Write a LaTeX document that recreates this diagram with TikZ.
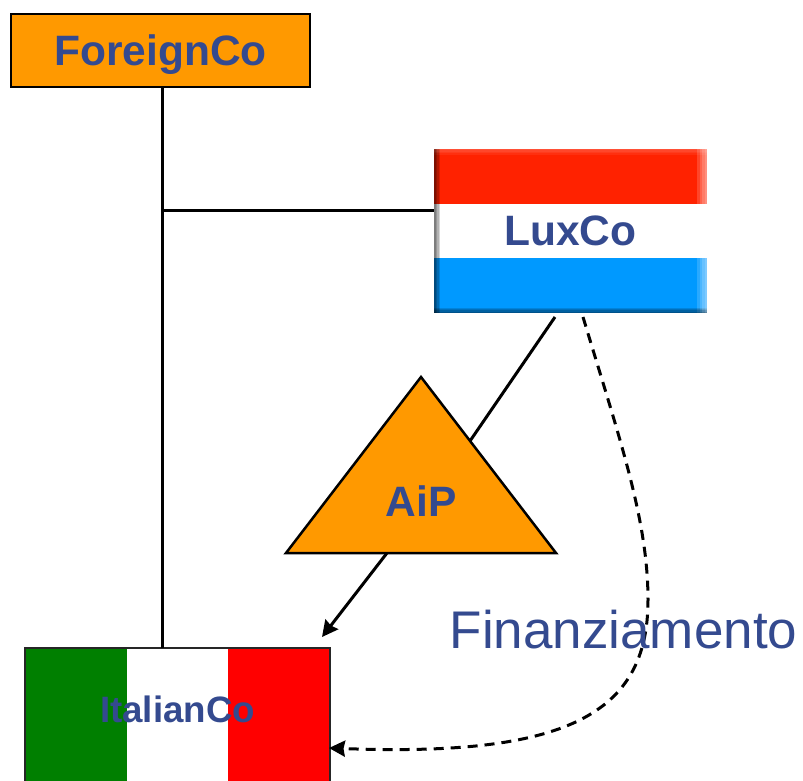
\documentclass[tikz,border=0pt]{standalone}
\usepackage{fontspec}
\setmainfont{Liberation Sans}
\usetikzlibrary{arrows}
\usetikzlibrary{arrows.meta}
\definecolor{lab}{HTML}{344A8F}
\definecolor{box}{HTML}{FF9900}
\definecolor{luxred}{HTML}{FF2200}
\definecolor{luxblue}{HTML}{0099FF}
\definecolor{itagreen}{HTML}{007F00}
\definecolor{itared}{HTML}{FF0000}
\tikzset{co/.style={text=lab,font=\fontsize{42.5}{42.5}\selectfont\bfseries,inner sep=0pt}}
\tikzset{ln/.style={draw=black,line width=3pt}}
\tikzset{ar/.style={ln,-{Stealth[length=16pt,width=16pt,inset=1.5pt]}}}

\begin{document}
\begin{tikzpicture}[x=1pt,y=-1pt]
\clip (0,0) rectangle (803,781);

% lux flag
\fill[luxred] (434,149) rectangle (707,204);
\fill[white] (434,204) rectangle (707,258);
\fill[luxblue] (434,258) rectangle (707,313);
\foreach \i in {0,1,2,3} {
  \fill[black,opacity=0.16] (434,149) rectangle (440-\i*1.5,313);
  \fill[white,opacity=0.16] (707,149) rectangle (697+\i*2.5,313);
  \fill[black,opacity=0.14] (434,313) rectangle (707,308+\i*1.2);
  \fill[white,opacity=0.06] (434,149) rectangle (707,155-\i*1.5);
}
\node[co,minimum width=273pt,minimum height=164pt] (lux) at (570.5,231) {LuxCo};

% italian flag
\fill[itagreen] (25,648) rectangle (127,830);
\fill[white] (127,648) rectangle (228,830);
\fill[itared] (228,648) rectangle (330,830);
\node[co,font=\fontsize{36.7}{36.7}\selectfont\bfseries] (ita) at (177.5,709) {ItalianCo};
\draw[line width=2pt,draw=black!85] (25,830) -- (25,648) -- (330,648) -- (330,830);

\node[co,draw=black,line width=2.5pt,fill=box,minimum width=299pt,minimum height=73pt,text depth=1pt] (foreign) at (160.5,50.5) {ForeignCo};

\coordinate (top) at (162,87);
\coordinate (bot) at (162,648);
\coordinate (mid) at (162,210);
\coordinate (luxw) at (434,210);
\coordinate (luxa) at (555,317);
\coordinate (luxb) at (583,317);
\coordinate (aipa) at (470,441);
\coordinate (aipb) at (387,553);
\coordinate (itaa) at (322,637);
\coordinate (itab) at (329,748);

\draw[ln] (top) -- (bot);
\draw[ln] (mid) -- (luxw);
\draw[ln] (luxa) -- (aipa);
\draw[ar] (aipb) -- (itaa);
\draw[ar,dash pattern=on 10pt off 7pt] (luxb) .. controls (620,440) and (648,520) .. (648,600) .. controls (648,715) and (565,757) .. (itab);

\draw[line width=2.5pt,fill=box] (421,377) -- (556,553) -- (286,553) -- cycle;
\node[co] (aip) at (421,501) {AiP};

\node[text=lab,font=\fontsize{53}{53}\selectfont,inner sep=0pt] (fin) at (623.5,630) {Finanziamento};
\end{tikzpicture}
\end{document}
